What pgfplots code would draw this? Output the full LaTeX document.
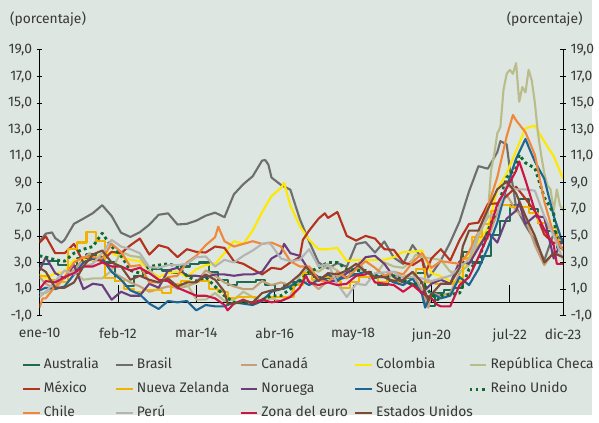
\documentclass[border=0pt]{standalone}
\usepackage{fontspec}
\setmainfont{Fira Sans}
\usepackage{pgfplots}
\pgfplotsset{compat=1.18}
\definecolor{bg}{RGB}{221,230,225}
\definecolor{txt}{RGB}{55,55,55}
\definecolor{cAus}{RGB}{31,106,80}
\definecolor{cBra}{RGB}{110,110,110}
\definecolor{cCan}{RGB}{196,160,122}
\definecolor{cCol}{RGB}{255,232,0}
\definecolor{cCze}{RGB}{185,189,140}
\definecolor{cMex}{RGB}{181,50,30}
\definecolor{cNZ}{RGB}{242,178,0}
\definecolor{cNor}{RGB}{107,61,125}
\definecolor{cSwe}{RGB}{29,102,148}
\definecolor{cUK}{RGB}{14,107,46}
\definecolor{cChi}{RGB}{240,136,60}
\definecolor{cPer}{RGB}{180,180,180}
\definecolor{cEur}{RGB}{204,20,70}
\definecolor{cUSA}{RGB}{122,74,54}
\begin{document}
\fontsize{10.5}{12.6}\selectfont
\begin{tikzpicture}[font=\fontsize{10.5}{12.6}\selectfont]
\fill[bg] (0,0) rectangle (449.25pt,315pt);
\node[anchor=west,text=txt,inner sep=0pt] at (7.5pt,300.75pt) {(porcentaje)};
\node[anchor=east,text=txt,inner sep=0pt] at (442.5pt,300.75pt) {(porcentaje)};
\begin{axis}[
  at={(30pt,75.375pt)}, anchor=south west,
  scale only axis, width=397.5pt, height=201.75pt,
  xmin=0, xmax=167, ymin=-1, ymax=19,
  axis y line*=left, axis x line*=bottom,
  x axis line style={draw=none},
  y axis line style={black, line width=0.8pt},
  xtick={0,25,50,75,100,125,150,167},
  xticklabels={ene-10,feb-12,mar-14,abr-16,may-18,jun-20,jul-22,dic-23},
  xtick style={draw=none},
  xticklabel style={yshift=-4pt},
  ytick={-1,1,3,5,7,9,11,13,15,17,19},
  ytick style={black, line width=0.6pt},
  tick align=center, major tick length=4pt,
  tick label style={text=txt},
  yticklabel style={/pgf/number format/.cd, fixed, fixed zerofill, precision=1, use comma, assume math mode=true},
  legend columns=5,
  legend cell align=left,
  legend style={at={(-0.0415,-0.15)}, anchor=north west, draw=none, fill=none,
    nodes={inner sep=0pt, text height=8pt, text depth=2.5pt, text=txt},
    row sep=7.6pt, column sep=0pt},
  legend image code/.code={\draw[const plot=false] (0pt,0pt) -- (12.75pt,0pt);},
  every axis plot/.append style={line width=1.6pt, line join=round},
]
\draw[black, line width=0.8pt] (axis cs:0,0) -- (axis cs:167,0);
\draw[black, line width=0.6pt] (axis cs:25,0) -- ++(0,3pt);
\draw[black, line width=0.6pt] (axis cs:50,0) -- ++(0,3pt);
\draw[black, line width=0.6pt] (axis cs:75,0) -- ++(0,3pt);
\draw[black, line width=0.6pt] (axis cs:100,0) -- ++(0,3pt);
\draw[black, line width=0.6pt] (axis cs:125,0) -- ++(0,3pt);
\draw[black, line width=0.6pt] (axis cs:150,0) -- ++(0,3pt);

% Australia (quarterly)
\addplot[cAus, const plot] coordinates {(0,2.9)(3,3.1)(6,2.8)(9,2.7)(12,3.3)(15,3.6)(18,3.4)(21,3.0)(24,1.6)(27,1.2)(30,2.0)(33,2.2)(36,2.5)(39,2.4)(42,2.2)(45,2.7)(48,2.9)(51,3.0)(54,2.3)(57,1.7)(60,1.3)(63,1.5)(66,1.5)(69,1.7)(72,1.3)(75,1.0)(78,1.3)(81,1.5)(84,2.1)(87,1.9)(90,1.8)(93,1.9)(96,1.9)(99,2.1)(102,1.9)(105,1.8)(108,1.3)(111,1.6)(114,1.7)(117,1.8)(120,2.2)(123,-0.3)(126,0.7)(129,0.9)(132,1.1)(135,3.8)(138,3.0)(141,3.5)(144,5.1)(147,6.1)(150,7.3)(153,7.8)(156,7.0)(159,6.0)(162,5.4)(165,4.1)(167,4.1)};
\addlegendentry{\hspace{2.25pt}\makebox[54pt][l]{Australia}}
% Brasil
\addplot[cBra] coordinates {(0,4.59)(2,5.17)(4,5.26)(5,4.84)(7,4.49)(8,4.70)(11,5.91)(14,6.30)(17,6.71)(20,7.31)(23,6.50)(26,5.24)(29,4.92)(32,5.28)(35,5.84)(38,6.59)(41,6.70)(44,5.86)(47,5.91)(50,6.15)(53,6.52)(56,6.75)(59,6.41)(62,8.13)(65,8.89)(68,9.49)(71,10.67)(72,10.71)(73,10.36)(74,9.39)(77,8.84)(80,8.48)(83,6.29)(86,4.57)(89,3.00)(92,2.54)(95,2.95)(98,2.68)(101,4.39)(104,4.53)(107,3.75)(110,4.58)(113,3.37)(116,2.89)(119,4.31)(122,3.30)(124,1.88)(125,2.13)(128,3.14)(131,4.52)(134,6.10)(137,8.35)(140,10.25)(143,10.06)(146,11.30)(147,12.13)(149,11.89)(150,10.07)(151,8.73)(152,7.17)(155,5.79)(158,4.65)(161,3.16)(164,5.19)(167,4.62)};
\addlegendentry{\hspace{2.25pt}\makebox[78pt][l]{Brasil}}
% Canada
\addplot[cCan] coordinates {(0,1.9)(2,1.4)(5,1.0)(8,1.9)(11,2.4)(14,3.3)(16,3.7)(17,3.1)(20,3.2)(23,2.3)(26,1.9)(29,1.5)(32,1.2)(35,0.8)(38,1.0)(41,1.2)(44,1.1)(47,1.2)(50,1.5)(53,2.4)(56,2.0)(59,1.5)(62,1.2)(65,1.0)(68,1.0)(71,1.6)(74,1.3)(77,1.5)(80,1.3)(83,1.5)(86,1.6)(89,1.0)(92,1.6)(95,1.9)(98,2.3)(101,2.5)(102,3.0)(104,2.2)(107,2.0)(110,1.9)(113,2.0)(116,1.9)(119,2.2)(122,0.9)(124,-0.4)(125,0.7)(128,0.5)(131,0.7)(134,2.2)(137,3.1)(140,4.4)(143,4.8)(146,6.7)(149,8.1)(152,6.9)(155,6.3)(158,4.3)(161,2.8)(164,3.8)(167,3.4)};
\addlegendentry{\hspace{2.25pt}\makebox[70.5pt][l]{Canadá}}
% Colombia
\addplot[cCol] coordinates {(0,2.1)(2,1.8)(5,2.2)(8,2.3)(11,3.2)(14,3.2)(17,3.2)(20,3.7)(23,3.7)(26,3.4)(29,3.2)(32,3.1)(35,2.4)(38,1.9)(41,2.2)(44,2.3)(47,1.9)(50,2.5)(53,2.8)(56,2.9)(59,3.7)(62,4.6)(65,4.4)(68,5.4)(71,6.8)(74,8.0)(77,8.6)(78,9.0)(80,7.3)(83,5.75)(86,4.7)(89,4.0)(92,4.0)(95,4.1)(98,3.1)(101,3.2)(104,3.2)(107,3.2)(110,3.2)(113,3.4)(116,3.8)(119,3.8)(122,3.9)(125,2.2)(128,1.97)(131,1.6)(134,1.5)(137,3.6)(140,4.5)(143,5.6)(146,8.5)(149,9.7)(152,11.4)(155,13.1)(158,13.3)(161,12.1)(164,11.0)(167,9.3)};
\addlegendentry{\hspace{2.25pt}\makebox[69.75pt][l]{Colombia}}
% Republica Checa
\addplot[cCze] coordinates {(0,0.7)(2,0.7)(5,1.2)(8,1.9)(11,2.3)(14,1.7)(17,1.8)(20,1.8)(23,2.4)(26,3.8)(29,3.5)(32,3.4)(35,2.4)(38,1.7)(41,1.6)(44,1.0)(47,1.4)(50,0.2)(53,0.2)(56,0.7)(59,0.1)(62,0.2)(65,0.8)(68,0.4)(71,0.1)(74,0.3)(77,0.1)(80,0.5)(83,2.0)(86,2.6)(89,2.3)(92,2.8)(95,2.4)(98,1.8)(101,2.6)(104,2.3)(107,2.0)(110,3.0)(113,2.7)(116,2.6)(119,3.2)(120,3.6)(122,3.4)(125,3.3)(128,3.2)(131,2.3)(134,2.3)(137,2.8)(140,4.9)(143,6.6)(144,9.9)(145,11.1)(146,12.7)(147,13.2)(148,16.0)(149,17.2)(150,17.5)(151,17.2)(152,18.0)(153,15.1)(154,16.2)(155,15.8)(156,17.5)(157,16.7)(158,15.0)(159,12.7)(160,11.1)(161,9.7)(162,8.8)(163,8.5)(164,6.9)(165,8.5)(166,7.3)(167,6.9)};
\addlegendentry{\hspace{2.25pt}República Checa}
% Mexico
\addplot[cMex] coordinates {(0,4.5)(2,4.97)(5,3.7)(8,3.7)(11,4.4)(14,3.0)(17,3.3)(20,3.1)(23,3.8)(26,3.7)(29,4.3)(32,4.8)(35,3.6)(38,4.3)(41,4.1)(44,3.4)(47,4.0)(50,3.8)(53,3.75)(56,4.2)(59,4.1)(62,3.1)(65,2.9)(68,2.5)(71,2.1)(74,2.6)(77,2.5)(80,3.0)(83,3.4)(84,4.7)(86,5.4)(89,6.3)(91,6.7)(92,6.35)(95,6.8)(98,5.0)(101,4.65)(104,5.0)(107,4.8)(110,4.0)(113,3.95)(116,3.0)(119,2.8)(122,3.25)(123,2.15)(125,3.3)(128,4.0)(131,3.15)(134,4.7)(137,5.9)(140,6.0)(143,7.4)(146,7.45)(149,8.0)(152,8.7)(155,7.8)(158,6.85)(161,5.1)(164,4.45)(167,4.7)};
\addlegendentry{\hspace{2.25pt}\makebox[54pt][l]{México}}
% Nueva Zelanda (quarterly)
\addplot[cNZ, const plot] coordinates {(0,2.0)(3,1.7)(6,1.5)(9,4.0)(12,4.5)(15,5.3)(18,4.6)(21,1.8)(24,1.6)(27,1.0)(30,0.8)(33,0.9)(36,0.9)(39,0.7)(42,1.4)(45,1.6)(48,1.5)(51,1.6)(54,1.0)(57,0.8)(60,0.3)(63,0.4)(66,0.4)(69,0.1)(72,0.4)(75,0.4)(78,0.4)(81,1.3)(84,2.2)(87,1.7)(90,1.9)(93,1.6)(96,1.1)(99,1.5)(102,1.9)(105,1.9)(108,1.5)(111,1.7)(114,1.5)(117,1.9)(120,2.5)(123,1.5)(126,1.4)(129,1.4)(132,1.5)(135,3.3)(138,4.9)(141,5.9)(144,6.9)(147,7.3)(150,7.2)(153,7.2)(156,6.7)(159,6.0)(162,5.6)(165,4.7)(167,4.7)};
\addlegendentry{\hspace{2.25pt}\makebox[78pt][l]{Nueva Zelanda}}
% Noruega
\addplot[cNor] coordinates {(0,2.4)(2,3.4)(5,2.2)(8,1.8)(11,2.8)(14,1.0)(17,1.4)(20,1.3)(23,0.2)(26,0.8)(29,0.5)(32,0.5)(35,1.4)(38,1.1)(41,2.4)(44,2.6)(47,2.0)(50,2.0)(53,1.9)(56,2.1)(59,2.1)(62,2.0)(65,2.1)(68,2.1)(71,2.3)(74,3.3)(77,3.7)(78,4.4)(80,3.7)(83,3.5)(86,2.4)(89,1.9)(92,1.6)(95,1.6)(98,2.2)(101,2.6)(104,3.4)(107,3.5)(110,2.9)(113,1.9)(116,1.5)(119,1.4)(122,0.7)(125,1.4)(128,1.7)(131,1.4)(134,3.1)(137,2.9)(140,4.1)(143,5.3)(146,4.5)(149,6.3)(152,6.9)(153,7.5)(155,5.9)(158,6.5)(161,6.4)(164,3.3)(167,4.8)};
\addlegendentry{\hspace{2.25pt}\makebox[70.5pt][l]{Noruega}}
% Suecia
\addplot[cSwe] coordinates {(0,0.9)(2,1.1)(5,1.0)(8,1.2)(11,2.1)(14,3.0)(17,3.3)(20,3.3)(23,2.3)(26,1.7)(29,0.9)(32,0.6)(35,-0.1)(38,-0.5)(41,0.1)(44,0.0)(47,0.1)(50,-0.6)(53,-0.2)(56,-0.3)(59,-0.3)(62,0.0)(65,-0.1)(68,-0.2)(71,0.1)(74,0.8)(77,1.0)(80,1.2)(83,1.7)(86,1.3)(89,1.7)(92,2.1)(95,1.7)(98,1.9)(101,2.1)(104,2.3)(107,2.0)(110,1.9)(113,1.5)(116,1.3)(119,1.8)(122,0.6)(123,-0.4)(125,0.7)(128,0.3)(131,0.5)(134,1.9)(137,1.3)(140,2.5)(143,4.1)(146,6.0)(149,8.7)(152,10.8)(155,12.3)(156,11.7)(158,10.6)(161,9.3)(164,6.5)(167,4.4)};
\addlegendentry{\hspace{2.25pt}\makebox[69.75pt][l]{Suecia}}
% Reino Unido
\addplot[cUK, line width=2.2pt, dash pattern=on 2.2pt off 2.4pt] coordinates {(0,3.5)(2,3.4)(5,3.2)(8,3.1)(11,3.7)(14,4.0)(17,4.2)(20,5.2)(23,4.2)(26,3.5)(29,2.4)(32,2.2)(35,2.7)(38,2.8)(41,2.9)(44,2.7)(47,2.0)(50,1.6)(53,1.9)(56,1.2)(59,0.5)(62,0.0)(65,0.0)(68,-0.1)(71,0.2)(74,0.5)(77,0.5)(80,1.0)(83,1.6)(86,2.3)(89,2.6)(92,3.0)(95,3.0)(98,2.5)(101,2.4)(104,2.4)(107,2.1)(110,1.9)(113,2.0)(116,1.7)(119,1.3)(122,1.5)(125,0.6)(127,0.2)(128,0.5)(131,0.6)(134,0.7)(137,2.5)(140,3.1)(143,5.4)(146,7.0)(149,9.4)(152,10.1)(153,11.1)(155,10.5)(158,10.1)(161,7.9)(164,6.7)(165,4.6)(167,4.0)};
\addlegendentry{\hspace{2.25pt}Reino Unido}
% Chile
\addplot[cChi] coordinates {(0,-0.4)(1,0.3)(2,0.3)(5,1.2)(8,1.9)(11,3.0)(14,3.4)(17,3.4)(20,3.3)(23,4.4)(26,3.8)(29,2.7)(32,2.8)(35,1.5)(38,1.5)(41,1.9)(44,2.0)(47,3.0)(50,3.5)(53,4.3)(56,4.9)(57,5.7)(59,4.6)(62,4.2)(65,4.4)(68,4.6)(71,4.4)(74,4.5)(77,4.2)(80,3.1)(83,2.7)(86,2.7)(89,1.7)(92,1.5)(95,2.3)(98,1.8)(101,2.5)(104,3.1)(107,2.6)(110,2.0)(113,2.3)(116,2.1)(119,3.0)(122,3.7)(125,2.6)(128,3.1)(131,3.0)(134,2.9)(137,3.8)(140,5.3)(143,7.2)(146,9.4)(149,12.5)(151,14.1)(152,13.7)(155,12.8)(158,11.1)(161,7.6)(164,5.1)(167,3.9)};
\addlegendentry{\hspace{2.25pt}\makebox[54pt][l]{Chile}}
% Peru
\addplot[cPer] coordinates {(0,0.4)(2,0.8)(5,1.6)(8,2.4)(11,2.1)(14,2.7)(17,2.9)(20,3.7)(23,4.7)(26,4.2)(29,4.0)(32,3.7)(35,2.65)(38,2.6)(41,2.8)(44,2.8)(47,2.9)(50,3.4)(53,3.45)(56,2.7)(59,3.2)(62,3.0)(65,3.5)(68,3.9)(71,4.4)(73,4.5)(74,4.3)(77,3.3)(80,3.1)(83,3.2)(86,4.0)(89,2.7)(92,2.9)(95,1.4)(98,0.4)(101,1.4)(104,1.3)(107,2.2)(110,2.25)(113,2.3)(116,1.85)(119,1.9)(122,1.8)(125,1.6)(128,1.8)(131,2.0)(134,2.6)(137,3.25)(140,5.2)(143,6.4)(146,6.8)(149,8.8)(152,8.5)(155,8.5)(158,8.4)(161,6.5)(164,5.0)(167,3.2)};
\addlegendentry{\hspace{2.25pt}\makebox[78pt][l]{Perú}}
% Zona del euro
\addplot[cEur] coordinates {(0,1.0)(2,1.6)(5,1.5)(8,1.9)(11,2.2)(14,2.7)(17,2.7)(20,3.0)(23,2.7)(26,2.7)(29,2.4)(32,2.6)(35,2.2)(38,1.7)(41,1.6)(44,1.1)(47,0.8)(50,0.5)(53,0.5)(56,0.3)(59,-0.2)(60,-0.6)(62,-0.1)(65,0.2)(68,-0.1)(71,0.2)(74,0.0)(77,0.1)(80,0.4)(83,1.1)(85,2.0)(86,1.5)(89,1.3)(92,1.5)(95,1.3)(98,1.4)(101,2.0)(104,2.1)(105,2.3)(107,1.5)(110,1.4)(113,1.3)(116,0.8)(119,1.3)(122,0.7)(125,0.3)(127,-0.2)(128,-0.3)(131,-0.3)(134,1.3)(137,1.9)(140,3.4)(143,5.0)(146,7.4)(149,8.6)(152,9.9)(153,10.6)(155,9.2)(158,6.9)(161,5.5)(164,4.3)(165,2.9)(167,2.9)};
\addlegendentry{\hspace{2.25pt}\makebox[70.5pt][l]{Zona del euro}}
% Estados Unidos
\addplot[cUSA] coordinates {(0,2.6)(2,2.3)(5,1.1)(8,1.1)(11,1.5)(14,2.7)(17,3.6)(20,3.9)(23,3.0)(26,2.7)(29,1.7)(32,2.0)(35,1.7)(38,1.5)(41,1.8)(44,1.2)(47,1.5)(50,1.5)(53,2.1)(56,1.7)(59,0.8)(60,-0.1)(62,-0.1)(65,0.1)(68,0.0)(71,0.7)(74,0.9)(77,1.0)(80,1.5)(83,2.1)(85,2.7)(86,2.4)(89,1.6)(92,2.2)(95,2.1)(98,2.4)(101,2.9)(104,2.3)(107,1.9)(110,1.9)(113,1.6)(116,1.7)(119,2.3)(122,1.5)(124,0.1)(125,0.6)(128,1.4)(131,1.4)(134,2.6)(135,4.2)(137,5.4)(140,5.4)(143,7.0)(146,8.5)(149,9.1)(152,8.2)(155,6.5)(158,5.0)(161,3.0)(164,3.7)(167,3.4)};
\addlegendentry{\hspace{2.25pt}\makebox[69.75pt][l]{Estados Unidos}}
\end{axis}
\begin{axis}[
  at={(30pt,75.375pt)}, anchor=south west,
  scale only axis, width=397.5pt, height=201.75pt,
  xmin=0, xmax=167, ymin=-1, ymax=19,
  axis y line*=right, axis x line=none,
  y axis line style={black, line width=0.8pt},
  ytick={-1,1,3,5,7,9,11,13,15,17,19},
  ytick style={black, line width=0.6pt},
  tick align=center, major tick length=4pt,
  tick label style={text=txt},
  yticklabel style={/pgf/number format/.cd, fixed, fixed zerofill, precision=1, use comma, assume math mode=true},
]
\end{axis}
\end{tikzpicture}
\end{document}
